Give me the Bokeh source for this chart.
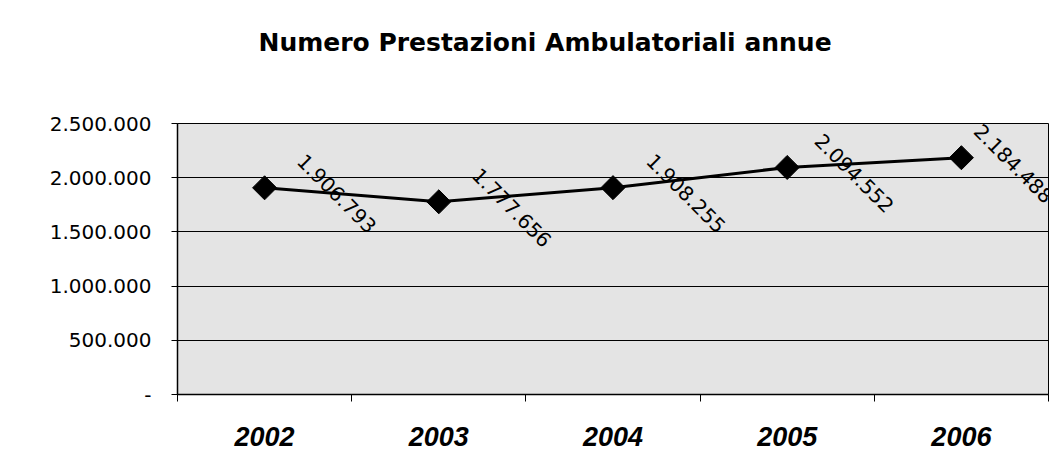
import math
from bokeh.plotting import figure
from bokeh.models import Range1d, FixedTicker, ColumnDataSource, LabelSet, Title
from bokeh.core.properties import value
from bokeh.embed import file_html
from bokeh.resources import INLINE

# ---- data ----
years = ["2002", "2003", "2004", "2005", "2006"]
prestazioni = [1906793, 1777656, 1908255, 2094552, 2184488]
y_ticks = [0, 500000, 1000000, 1500000, 2000000, 2500000]
y_tick_labels = ["-", "500.000", "1.000.000", "1.500.000", "2.000.000", "2.500.000"]
title_text = "Numero Prestazioni Ambulatoriali annue"

# ---- styling ----
label_shift = [72, 73, 73, 67, 52]

x = [i + 0.5 for i in range(len(years))]
labels = [f"{v:,}".replace(",", ".") for v in prestazioni]

p = figure(width=1063, height=470, output_backend="svg", toolbar_location=None,
           x_range=Range1d(0, len(years)), y_range=Range1d(0, 2500000),
           min_border_left=177, min_border_right=15, min_border_top=123,
           min_border_bottom=76)

p.background_fill_color = "#e4e4e4"
p.border_fill_color = "white"
p.outline_line_color = "black"
p.outline_line_width = 1

# spacer between title and frame
p.add_layout(Title(text=" ", text_font_size="10px", standoff=29), "above")

# title
p.title.text = title_text
p.title.text_font = "DejaVu Sans"
p.title.text_font_style = "bold"
p.title.text_font_size = "25px"
p.title.text_color = "black"
p.title.align = "left"
p.title.offset = 81
p.title.standoff = 50

# x axis
p.xaxis.ticker = FixedTicker(ticks=x, minor_ticks=list(range(len(years) + 1)))
p.xaxis.major_label_overrides = {xi: yr for xi, yr in zip(x, years)}
p.xaxis.major_tick_in = 0
p.xaxis.major_tick_out = 0
p.xaxis.minor_tick_in = 0
p.xaxis.minor_tick_out = 7
p.xaxis.minor_tick_line_color = "black"
p.xaxis.axis_line_color = "black"
p.xaxis.axis_line_width = 1.5
p.xaxis.major_label_standoff = 25
p.xaxis.major_label_text_font = "Liberation Sans"
p.xaxis.major_label_text_font_style = "bold italic"
p.xaxis.major_label_text_font_size = "27px"
p.xaxis.major_label_text_color = "black"
p.xgrid.visible = False

# y axis
p.yaxis.ticker = FixedTicker(ticks=y_ticks, minor_ticks=[])
p.yaxis.major_label_overrides = {t: l for t, l in zip(y_ticks, y_tick_labels)}
p.yaxis.major_tick_in = 0
p.yaxis.major_tick_out = 6
p.yaxis.major_tick_line_color = "black"
p.yaxis.axis_line_color = "black"
p.yaxis.axis_line_width = 1.5
p.yaxis.major_label_standoff = 20
p.yaxis.major_label_text_font = "DejaVu Sans"
p.yaxis.major_label_text_font_size = "20px"
p.yaxis.major_label_text_color = "black"
p.ygrid.grid_line_color = "black"
p.ygrid.grid_line_width = 1
p.ygrid.grid_line_alpha = 1

# series
p.line(x, prestazioni, line_color="black", line_width=3)
p.scatter(x, prestazioni, marker="square", angle=math.pi / 4, size=17,
          fill_color="black", line_color="black")

src = ColumnDataSource(dict(x=x, y=prestazioni, label=labels, dx=label_shift))
ls = LabelSet(x="x", y="y", text="label", source=src, angle=-math.pi / 4,
              x_offset="dx", y_offset=-6, text_align="center", text_baseline="middle",
              text_font=value("DejaVu Sans"), text_font_size=value("20px"),
              text_color="black")
p.add_layout(ls)

open("out.html", "w").write(file_html(p, INLINE))
